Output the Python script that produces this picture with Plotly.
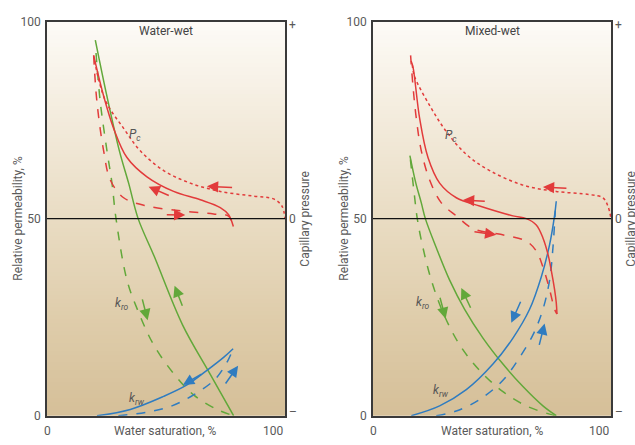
import plotly.graph_objects as go

# ---------------- Water-wet panel ----------------
# oil relative permeability (solid = drainage, dashed = imbibition)
ww_kro_dr_x = [20.3, 25.2, 30.5, 34.3, 38.3, 45.0, 57.0, 68.6, 78.4]
ww_kro_dr_y = [95.3, 81.0, 67.0, 59.0, 50.0, 40.5, 23.0, 10.5, 0.0]
ww_kro_im_x = [20.6, 22.4, 25.2, 27.3, 29.0, 33.6, 38.5, 44.8, 53.2, 61.6, 71.4, 78.4]
ww_kro_im_y = [92.0, 79.5, 67.2, 59.0, 50.0, 34.4, 26.2, 18.0, 10.7, 5.3, 1.6, 0.0]
# water relative permeability
ww_krw_dr_x = [21.0, 35.0, 49.0, 58.8, 67.2, 74.2, 78.2]
ww_krw_dr_y = [0.0, 1.6, 4.9, 7.8, 11.5, 14.8, 17.0]
ww_krw_im_x = [30.0, 42.0, 52.5, 61.6, 70.7, 76.0, 78.2]
ww_krw_im_y = [0.0, 0.9, 2.5, 5.3, 9.3, 14.0, 17.0]
# capillary pressure (dotted = primary drainage, solid = secondary drainage, dashed = imbibition)
ww_pc_pd_x = [20.0, 24.5, 32.2, 39.2, 49.0, 60.2, 72.8, 86.8, 95.2, 98.7, 100.0]
ww_pc_pd_y = [90.0, 80.0, 72.9, 67.2, 62.2, 59.0, 56.9, 55.7, 55.0, 53.2, 50.0]
ww_pc_sd_x = [19.6, 23.8, 28.0, 33.6, 42.0, 53.2, 64.4, 72.8, 76.3, 78.3]
ww_pc_sd_y = [91.4, 81.1, 72.9, 65.5, 60.6, 56.9, 54.8, 52.8, 51.0, 48.0]
ww_pc_im_x = [19.6, 21.0, 23.8, 26.6, 32.2, 42.0, 56.0, 70.0, 76.3, 78.3]
ww_pc_im_y = [91.4, 79.5, 67.2, 59.8, 55.3, 53.2, 52.0, 51.2, 50.6, 48.0]

# ---------------- Mixed-wet panel ----------------
mw_kro_dr_x = [15.5, 18.0, 20.3, 22.0, 26.6, 32.2, 38.5, 46.2, 54.6, 63.0, 71.4, 77.0]
mw_kro_dr_y = [66.0, 59.0, 54.0, 50.0, 42.6, 34.4, 27.0, 19.7, 13.1, 7.4, 2.5, 0.0]
mw_kro_im_x = [15.7, 17.2, 18.6, 21.0, 24.5, 29.4, 36.4, 44.8, 54.6, 64.4, 74.2, 77.0]
mw_kro_im_y = [65.0, 57.0, 50.0, 42.6, 34.4, 26.2, 18.0, 11.5, 6.1, 2.5, 0.4, 0.0]
mw_krw_dr_x = [16.1, 28.0, 39.2, 50.4, 58.8, 65.8, 70.7, 74.2, 76.3, 77.0]
mw_krw_dr_y = [0.0, 2.5, 6.6, 13.1, 19.7, 27.0, 35.2, 43.4, 50.8, 54.4]
mw_krw_im_x = [26.6, 35.0, 44.8, 54.6, 61.6, 67.2, 71.4, 74.2, 75.6, 76.6]
mw_krw_im_y = [0.0, 1.2, 4.1, 9.0, 14.8, 20.5, 27.0, 34.4, 42.6, 52.0]
mw_pc_pd_x = [16.5, 17.5, 23.8, 30.8, 39.2, 49.0, 63.0, 77.0, 91.0, 96.6, 98.7, 100.0]
mw_pc_pd_y = [89.0, 86.0, 78.7, 72.1, 66.3, 62.2, 58.5, 56.9, 56.1, 55.3, 53.2, 50.0]
mw_pc_sd_x = [16.0, 16.8, 19.6, 23.1, 28.0, 35.0, 44.8, 58.8, 64.4, 68.6, 71.4, 73.5, 74.9, 76.3, 77.0, 77.3]
mw_pc_sd_y = [90.0, 88.5, 75.4, 65.5, 59.0, 55.3, 53.2, 50.7, 50.0, 48.4, 45.1, 41.0, 36.9, 32.0, 28.7, 25.8]
mw_pc_im_x = [15.8, 16.8, 18.2, 20.3, 23.8, 28.7, 35.0, 42.0, 56.0, 64.4, 68.6, 71.4, 74.2, 76.3, 77.3]
mw_pc_im_y = [91.4, 83.6, 75.4, 67.2, 59.8, 54.0, 50.7, 47.5, 45.7, 44.3, 41.8, 37.7, 32.0, 27.0, 25.8]

# direction arrows: (tail x, tail y, tip x, tip y)
ww_red_arrows = [(78.4, 57.9, 67.2, 58.2), (51.8, 55.7, 42.7, 58.1), (49.7, 51.0, 58.1, 50.9)]
ww_green_arrows = [(39.9, 29.9, 42.3, 24.2), (57.1, 27.5, 53.6, 33.0)]
ww_blue_arrows = [(65.5, 10.8, 57.1, 7.8), (74.6, 7.8, 80.3, 12.7)]
mw_red_arrows = [(81.9, 57.7, 71.4, 58.0), (47.6, 54.4, 37.8, 54.7), (42.0, 46.7, 51.8, 45.9)]
mw_green_arrows = [(28.0, 30.3, 30.5, 24.6), (41.3, 27.0, 37.1, 32.4)]
mw_blue_arrows = [(62.3, 29.3, 58.1, 23.6), (69.7, 17.6, 72.1, 23.4)]

# curve labels: (text, x, y)
ww_labels = [("<i>P<sub>c</sub></i>", 37.1, 71.3), ("<i>k<sub>ro</sub></i>", 31.5, 28.3),
             ("<i>k<sub>rw</sub></i>", 37.8, 4.3)]
mw_labels = [("<i>P<sub>c</sub></i>", 32.9, 70.9), ("<i>k<sub>ro</sub></i>", 21.0, 28.7),
             ("<i>k<sub>rw</sub></i>", 28.7, 6.3)]

panel_titles = ["Water-wet", "Mixed-wet"]
y_ticks = [0, 50, 100]
pc_tick_text = ["\u2013", "0", "+"]
x_tick_text = ["0", "100"]

RED = "#e23b3b"
GREEN = "#62a83a"
BLUE = "#2f7cc0"
TEXT = "#5a5a5a"
FONT = "Liberation Sans Narrow, Arial Narrow, Roboto, sans-serif"

W, H = 635, 445
dom_x = [[47 / W, 285 / W], [373 / W, 611 / W]]
dom_y = [1 - 422 / H, 1 - 15 / H]
y_mid = (dom_y[0] + dom_y[1]) / 2
x_lab_y = 1 - 438 / H

fig = go.Figure()

# vertical background gradient (tan at the bottom, cream at the top)
grad_scale = [[0.0, "#d5bf98"], [0.25, "#dfcdab"], [0.5, "#e9dcc3"],
              [0.75, "#f3ebdc"], [1.0, "#fdfbf7"]]
ramp = list(range(0, 101))

panels = [
    dict(kro=(ww_kro_dr_x, ww_kro_dr_y, ww_kro_im_x, ww_kro_im_y),
         krw=(ww_krw_dr_x, ww_krw_dr_y, ww_krw_im_x, ww_krw_im_y),
         pc=(ww_pc_pd_x, ww_pc_pd_y, ww_pc_sd_x, ww_pc_sd_y, ww_pc_im_x, ww_pc_im_y),
         arrows=[(ww_red_arrows, RED), (ww_green_arrows, GREEN), (ww_blue_arrows, BLUE)],
         labels=ww_labels),
    dict(kro=(mw_kro_dr_x, mw_kro_dr_y, mw_kro_im_x, mw_kro_im_y),
         krw=(mw_krw_dr_x, mw_krw_dr_y, mw_krw_im_x, mw_krw_im_y),
         pc=(mw_pc_pd_x, mw_pc_pd_y, mw_pc_sd_x, mw_pc_sd_y, mw_pc_im_x, mw_pc_im_y),
         arrows=[(mw_red_arrows, RED), (mw_green_arrows, GREEN), (mw_blue_arrows, BLUE)],
         labels=mw_labels),
]

annotations = []
shapes = []


def text_note(**kw):
    base = dict(showarrow=False, xanchor="center", yanchor="middle",
                font=dict(family=FONT, size=12, color=TEXT))
    base.update(kw)
    annotations.append(base)


for i, p in enumerate(panels):
    xa = "x" if i == 0 else "x2"
    ya = "y" if i == 0 else "y2"

    fig.add_trace(go.Heatmap(x=[0, 100], y=ramp, z=[[v, v] for v in ramp],
                             colorscale=grad_scale, zmin=0, zmax=100, showscale=False,
                             hoverinfo="skip", xaxis=xa, yaxis=ya))

    def line(xs, ys, color, dash):
        fig.add_trace(go.Scatter(x=xs, y=ys, mode="lines", xaxis=xa, yaxis=ya,
                                 line=dict(color=color, width=1.5, dash=dash,
                                           shape="spline", smoothing=1.0),
                                 hoverinfo="skip", showlegend=False))

    kx1, ky1, kx2, ky2 = p["kro"]
    line(kx1, ky1, GREEN, "solid")
    line(kx2, ky2, GREEN, "dash")
    wx1, wy1, wx2, wy2 = p["krw"]
    line(wx1, wy1, BLUE, "solid")
    line(wx2, wy2, BLUE, "dash")
    px1, py1, px2, py2, px3, py3 = p["pc"]
    line(px1, py1, RED, "dot")
    line(px2, py2, RED, "solid")
    line(px3, py3, RED, "dash")

    # zero capillary pressure line
    shapes.append(dict(type="line", xref=xa, yref=ya, x0=0, x1=100, y0=50, y1=50,
                       line=dict(color="#111111", width=1.3), layer="above"))

    for arrows, color in p["arrows"]:
        for (tx, ty, hx, hy) in arrows:
            annotations.append(dict(x=hx, y=hy, ax=tx, ay=ty, xref=xa, yref=ya,
                                    axref=xa, ayref=ya, text="", showarrow=True,
                                    arrowhead=2, arrowsize=1.5, arrowwidth=1.5,
                                    arrowcolor=color))
    for (txt, lx, ly) in p["labels"]:
        text_note(x=lx, y=ly, xref=xa, yref=ya, text=txt,
                  font=dict(family=FONT, size=12, color="#555555"))

    x0, x1 = dom_x[i]
    xmid = (x0 + x1) / 2
    # panel title
    text_note(x=50, y=97.5, xref=xa, yref=ya, text=panel_titles[i],
              font=dict(family=FONT, size=12, color="#444444"))
    # x-axis title and end labels
    text_note(x=xmid, y=x_lab_y, xref="paper", yref="paper", text="Water saturation, %")
    text_note(x=0, y=x_lab_y, xref=xa, yref="paper", text=x_tick_text[0])
    text_note(x=100, y=x_lab_y, xref=xa, yref="paper", text=x_tick_text[1], xanchor="right")
    # left axis title
    text_note(x=x0 - 29 / W, y=y_mid, xref="paper", yref="paper",
              text="Relative permeability, %", textangle=-90)
    # right (capillary pressure) axis
    text_note(x=x1 + 20 / W, y=y_mid, xref="paper", yref="paper",
              text="Capillary pressure", textangle=-90)
    for tv, tt in zip(y_ticks, pc_tick_text):
        text_note(x=x1 + 2 / W, y=tv, xref="paper", yref=ya, text=tt, xanchor="left",
                  yshift=(4 if tv == 0 else (-3 if tv == 100 else 0)))

axis_common = dict(range=[0, 100], showgrid=False, zeroline=False, showline=True,
                   mirror=True, linecolor="#3a3a3a", linewidth=1.5, ticks="")

fig.update_layout(
    width=W, height=H, margin=dict(l=0, r=0, t=0, b=0),
    paper_bgcolor="white", plot_bgcolor="white", showlegend=False,
    xaxis=dict(domain=dom_x[0], anchor="y", showticklabels=False, **axis_common),
    yaxis=dict(domain=dom_y, anchor="x", tickvals=y_ticks, ticklabelstandoff=2,
               tickfont=dict(family=FONT, size=12, color=TEXT), **axis_common),
    xaxis2=dict(domain=dom_x[1], anchor="y2", showticklabels=False, **axis_common),
    yaxis2=dict(domain=dom_y, anchor="x2", tickvals=y_ticks, ticklabelstandoff=2,
                tickfont=dict(family=FONT, size=12, color=TEXT), **axis_common),
    annotations=annotations, shapes=shapes,
)

fig.write_html("out.html")
